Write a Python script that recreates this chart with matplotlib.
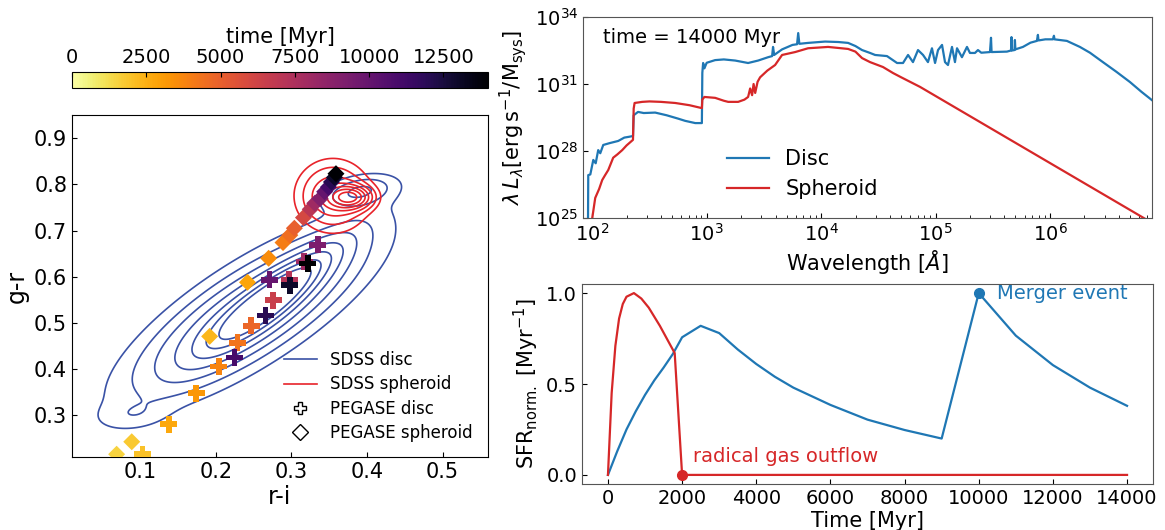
import numpy as np
import matplotlib
matplotlib.use("Agg")
import matplotlib.pyplot as plt
from matplotlib.lines import Line2D
from matplotlib.colors import Normalize
from matplotlib.cm import ScalarMappable
from matplotlib.ticker import NullLocator, LogLocator

# ---------------- PEGASE colour tracks (r-i, g-r) coloured by time ----------------
disc_time = [2000, 2700, 3200, 3800, 4300, 4800, 6500, 7200, 8000, 9200,
             10000, 11000, 12000, 13000, 14000]
disc_ri = [0.103, 0.138, 0.174, 0.204, 0.229, 0.247, 0.276, 0.297, 0.317, 0.335,
           0.271, 0.225, 0.266, 0.298, 0.322]
disc_gr = [0.216, 0.281, 0.348, 0.406, 0.457, 0.494, 0.549, 0.593, 0.633, 0.669,
           0.593, 0.425, 0.516, 0.582, 0.629]

sph_time = [1500, 1800, 2300, 2800, 3500, 4000, 4500, 5000, 6000, 7000,
            8000, 9000, 10000, 11000, 12000, 13000, 14000]
sph_ri = [0.069, 0.089, 0.192, 0.242, 0.270, 0.289, 0.298, 0.304, 0.316, 0.325,
          0.331, 0.338, 0.344, 0.349, 0.353, 0.357, 0.359]
sph_gr = [0.216, 0.243, 0.471, 0.588, 0.640, 0.674, 0.690, 0.705, 0.728, 0.746,
          0.759, 0.769, 0.784, 0.794, 0.805, 0.815, 0.823]

# ---------------- SDSS density model: (x0, y0, sigma_a, sigma_b, angle_deg, weight) -------
sdss_disc_components = [
    (0.245, 0.520, 0.130, 0.044, 50.0, 1.00),
    (0.280, 0.560, 0.090, 0.020, 54.0, 0.80),
    (0.390, 0.785, 0.032, 0.020, 25.0, 0.40),
    (0.090, 0.300, 0.030, 0.020, 15.0, 0.12),
]
sdss_disc_levels = [0.06, 0.13, 0.22, 0.33, 0.45, 0.57, 0.69]

sdss_sph_components = [
    (0.378, 0.772, 0.018, 0.016, 0.0, 1.00),
    (0.355, 0.775, 0.033, 0.052, 0.0, 0.60),
]
sdss_sph_levels = [0.12, 0.20, 0.30, 0.42, 0.55, 0.70, 0.86]

# ---------------- Spectra at 14000 Myr (log10 wavelength [A], log10 lambda L_lambda) -----------
disc_log_wave = [1.962, 1.965, 1.983, 2.009, 2.030, 2.052, 2.070, 2.096, 2.150, 2.227, 2.280,
                 2.314, 2.356, 2.362, 2.400, 2.450, 2.550, 2.650, 2.750, 2.812, 2.900, 2.958,
                 2.962, 2.969, 2.980, 3.000, 3.074, 3.150, 3.249, 3.362, 3.450, 3.537, 3.572,
                 3.580, 3.590, 3.659, 3.750, 3.790, 3.800, 3.810, 3.886, 4.035, 4.150, 4.236,
                 4.300, 4.358, 4.428, 4.472, 4.576, 4.664, 4.716, 4.760, 4.803, 4.847, 4.891,
                 4.934, 4.969, 4.996, 5.022, 5.057, 5.083, 5.109, 5.144, 5.170, 5.188, 5.231,
                 5.275, 5.301, 5.345, 5.371, 5.400, 5.476, 5.485, 5.490, 5.624, 5.660, 5.664,
                 5.668, 5.690, 5.694, 5.698, 5.764, 5.830, 5.886, 5.895, 5.900, 5.960, 6.026,
                 6.035, 6.040, 6.148, 6.262, 6.350, 6.463, 6.580, 6.699, 6.800, 6.891]
disc_log_lum = [24.00, 26.92, 26.95, 27.60, 27.45, 28.04, 27.90, 28.27, 28.35, 28.45, 28.60,
                28.63, 28.67, 29.60, 29.75, 29.70, 29.72, 29.60, 29.45, 29.35, 29.25, 29.25,
                31.50, 31.94, 31.70, 31.95, 32.07, 32.10, 32.05, 31.94, 32.05, 32.20, 32.25,
                32.66, 32.30, 32.55, 32.75, 32.78, 33.28, 32.80, 32.84, 32.90, 32.88, 32.84,
                32.70, 32.52, 32.39, 32.30, 32.25, 31.94, 31.94, 32.30, 31.98, 32.52, 32.30,
                31.98, 32.60, 31.94, 32.52, 32.75, 31.98, 31.85, 32.66, 31.98, 32.60, 32.20,
                32.66, 32.39, 32.39, 32.52, 32.40, 32.43, 33.07, 32.43, 32.45, 32.50, 33.10,
                32.50, 32.52, 32.97, 32.55, 32.66, 32.85, 32.93, 33.20, 32.95, 33.00, 33.00,
                33.16, 33.00, 32.93, 32.66, 32.40, 31.98, 31.55, 31.09, 30.65, 30.28]

sph_log_wave = [1.990, 2.000, 2.026, 2.060, 2.087, 2.110, 2.140, 2.183, 2.220, 2.262, 2.300,
                2.356, 2.362, 2.370, 2.437, 2.500, 2.600, 2.725, 2.850, 2.958, 2.962, 2.980,
                3.074, 3.150, 3.188, 3.275, 3.330, 3.362, 3.380, 3.397, 3.410, 3.424, 3.445,
                3.467, 3.530, 3.598, 3.659, 3.773, 3.886, 4.061, 4.236, 4.300, 4.358, 4.428,
                4.541, 4.629, 4.700, 4.865, 6.820, 6.900]
sph_log_lum = [24.50, 25.00, 25.90, 26.30, 26.70, 26.90, 27.15, 27.70, 27.85, 28.04, 28.25,
               28.50, 29.90, 30.15, 30.20, 30.22, 30.20, 30.15, 30.05, 29.92, 30.30, 30.42,
               30.38, 30.25, 30.20, 30.20, 30.30, 30.42, 30.80, 30.50, 31.00, 30.60, 31.10,
               31.30, 31.60, 31.85, 32.30, 32.43, 32.60, 32.66, 32.57, 32.45, 32.16, 31.98,
               31.76, 31.49, 31.30, 30.87, 25.00, 24.76]

# ---------------- Normalised star formation histories ----------------
sfr_disc_time = [0, 250, 500, 750, 1000, 1250, 1500, 1750, 2000, 2500, 3000, 3500, 4000,
                 4500, 5000, 6000, 7000, 8000, 9000, 10000, 11000, 12000, 13000, 14000]
sfr_disc = [0.0, 0.13, 0.25, 0.35, 0.44, 0.52, 0.59, 0.665, 0.757, 0.82, 0.78, 0.69, 0.61,
            0.54, 0.48, 0.385, 0.304, 0.247, 0.20, 1.0, 0.766, 0.604, 0.48, 0.38]
sfr_sph_time = [0, 100, 200, 300, 400, 500, 700, 900, 1100, 1400, 1800, 2000, 14000]
sfr_sph = [0.0, 0.45, 0.71, 0.86, 0.94, 0.98, 1.0, 0.97, 0.92, 0.82, 0.67, 0.0, 0.0]

merger_time, merger_sfr = 10000, 1.0
outflow_time, outflow_sfr = 2000, 0.0

BLUE = "#1f77b4"
RED = "#d62728"
SDSS_BLUE = "#3a52a6"
SDSS_RED = "#e8232a"


def gaussian_mixture(X, Y, comps):
    Z = np.zeros_like(X)
    for x0, y0, sa, sb, ang, w in comps:
        t = np.deg2rad(ang)
        dx, dy = X - x0, Y - y0
        u = dx * np.cos(t) + dy * np.sin(t)
        v = -dx * np.sin(t) + dy * np.cos(t)
        Z += w * np.exp(-0.5 * ((u / sa) ** 2 + (v / sb) ** 2))
    return Z / Z.max()


fig = plt.figure(figsize=(11.65, 5.3), dpi=100)
W, H = 1165.0, 530.0


def box(x0, y0, x1, y1):
    return [x0 / W, 1 - y1 / H, (x1 - x0) / W, (y1 - y0) / H]


# ================= colour-colour panel =================
ax = fig.add_axes(box(72, 115, 488, 457))
gx, gy = np.meshgrid(np.linspace(0.0, 0.6, 400), np.linspace(0.15, 1.0, 500))
zd = gaussian_mixture(gx, gy, sdss_disc_components)
zs = gaussian_mixture(gx, gy, sdss_sph_components)
ax.contour(gx, gy, zd, levels=sdss_disc_levels, colors=SDSS_BLUE, linewidths=1.2)
ax.contour(gx, gy, zs, levels=sdss_sph_levels, colors=SDSS_RED, linewidths=1.2)

norm = Normalize(vmin=0, vmax=14000)
cmap = plt.get_cmap("inferno_r")
ax.scatter(sph_ri, sph_gr, c=sph_time, cmap=cmap, norm=norm, marker="D", s=75,
           edgecolors="none", zorder=3)
ax.scatter(disc_ri, disc_gr, c=disc_time, cmap=cmap, norm=norm, marker="P", s=150,
           edgecolors="none", zorder=4)

ax.set_xlim(0.01, 0.56)
ax.set_ylim(0.21, 0.95)
ax.set_xticks([0.1, 0.2, 0.3, 0.4, 0.5])
ax.set_yticks([0.3, 0.4, 0.5, 0.6, 0.7, 0.8, 0.9])
ax.tick_params(direction="in", labelsize=15)
ax.set_xlabel("r-i", fontsize=17, labelpad=2)
ax.set_ylabel("g-r", fontsize=17, labelpad=4)

handles = [
    Line2D([], [], color=SDSS_BLUE, lw=1.2),
    Line2D([], [], color=SDSS_RED, lw=1.2),
    Line2D([], [], ls="none", marker="P", ms=9, mfc="white", mec="black", mew=1.0),
    Line2D([], [], ls="none", marker="D", ms=8, mfc="white", mec="black", mew=1.0),
]
ax.legend(handles, ["SDSS disc", "SDSS spheroid", "PEGASE disc", "PEGASE spheroid"],
          loc="lower right", bbox_to_anchor=(1.0, 0.0), frameon=False, fontsize=12,
          handlelength=2.0, labelspacing=0.38)

# colour bar
cax = fig.add_axes(box(72, 72, 488, 88))
cb = fig.colorbar(ScalarMappable(norm=norm, cmap=cmap), cax=cax, orientation="horizontal")
cb.set_ticks([0, 2500, 5000, 7500, 10000, 12500])
cax.xaxis.set_ticks_position("top")
cax.xaxis.set_label_position("top")
cax.tick_params(direction="in", labelsize=14)
cb.set_label("time [Myr]", fontsize=15, labelpad=4)

# ================= spectrum panel =================
axs = fig.add_axes(box(583, 17, 1152, 218))
axs.plot(10 ** np.array(disc_log_wave), 10 ** np.array(disc_log_lum), color=BLUE, lw=1.6,
         label="Disc")
axs.plot(10 ** np.array(sph_log_wave), 10 ** np.array(sph_log_lum), color=RED, lw=1.6,
         label="Spheroid")
axs.set_xscale("log")
axs.set_yscale("log")
axs.set_xlim(83, 7.8e6)
axs.set_ylim(1e25, 1e34)
axs.set_yticks([1e25, 1e28, 1e31, 1e34])
axs.yaxis.set_minor_locator(NullLocator())
axs.set_xticks([1e2, 1e3, 1e4, 1e5, 1e6])
axs.xaxis.set_minor_locator(LogLocator(base=10, subs=np.arange(2, 10)))
axs.tick_params(direction="in", which="both", labelsize=14)
axs.set_xlabel(r"Wavelength [$\AA$]", fontsize=15, labelpad=2)
axs.set_ylabel(r"$\lambda\,L_\lambda[\mathrm{erg\,s^{-1}/M_{sys}}]$", fontsize=15)
axs.text(0.035, 0.9, "time = 14000 Myr", transform=axs.transAxes, fontsize=14,
         va="center", ha="left")
axs.legend(loc="lower left", bbox_to_anchor=(0.22, 0.0), frameon=False, fontsize=15,
           handlelength=2.0)
for sp in axs.spines.values():
    sp.set_color("#555555")

# ================= star formation history panel =================
axf = fig.add_axes(box(582, 284, 1153, 484))
axf.plot(sfr_disc_time, sfr_disc, color=BLUE, lw=1.6)
axf.plot(sfr_sph_time, sfr_sph, color=RED, lw=1.6)
axf.plot([merger_time], [merger_sfr], "o", color=BLUE, ms=7)
axf.plot([outflow_time], [outflow_sfr], "o", color=RED, ms=7)
axf.text(merger_time + 500, merger_sfr, "Merger event", color=BLUE, fontsize=14,
         va="center", ha="left")
axf.text(outflow_time + 300, outflow_sfr + 0.05, "radical gas outflow", color=RED,
         fontsize=14, va="bottom", ha="left")
axf.set_xticks([0, 2000, 4000, 6000, 8000, 10000, 12000, 14000])
axf.set_yticks([0.0, 0.5, 1.0])
axf.tick_params(direction="in", labelsize=14)
axf.set_xlabel("Time [Myr]", fontsize=15, labelpad=2)
axf.set_ylabel(r"SFR$_{\mathrm{norm.}}$ [Myr$^{-1}$]", fontsize=15)
for sp in axf.spines.values():
    sp.set_color("#555555")

fig.savefig("out.png", dpi=100)
